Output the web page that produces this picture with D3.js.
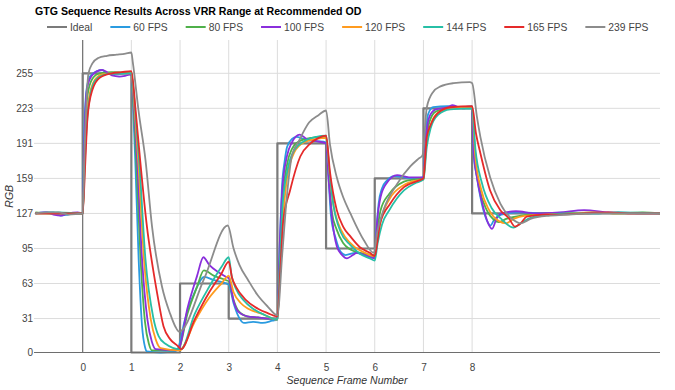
<!DOCTYPE html>
<html>
<head>
<meta charset="utf-8">
<script src="https://cdn.jsdelivr.net/npm/d3@7"></script>
<style>
  body { margin: 0; background: #fff; }
  svg { font-family: "Liberation Sans", Arial, sans-serif; }
</style>
</head>
<body>
<svg id="chart" width="675" height="390"></svg>
<script>
const seriesNames = ["Ideal", "60 FPS", "80 FPS", "100 FPS", "120 FPS", "144 FPS", "165 FPS", "239 FPS"];
const seriesColors = ["#7b7b7b", "#2a9be0", "#4fb04a", "#8a2fdc", "#ff9b1f", "#27bfa6", "#e52a2a", "#8c8c8c"];

const yTicks = [0, 31, 63, 95, 127, 159, 191, 223, 255];
const xTicks = [0, 1, 2, 3, 4, 5, 6, 7, 8];

// [frame, rgb]
const ideal = [[-0.97,127],[0,127],[0,255],[1,255],[1,0],[2,0],[2,63],[3,63],[3,31],[4,31],[4,191],[5,191],[5,95],[6,95],[6,159],[7,159],[7,223],[8,223],[8,127],[11.86,127]];

const fps60 = [[-0.97,127],[-0.8,128],[-0.6,128],[-0.45,125],[-0.3,126],[-0.15,127],[0,127],
  [0.03,200],[0.08,240],[0.15,252],[0.3,257],[0.4,258],[0.5,255],[0.7,254],[0.9,255],[1.0,255],
  [1.04,220],[1.08,176],[1.15,85],[1.22,24],[1.28,5],[1.32,1],[1.6,0],[1.88,1],
  [1.95,3],[2.1,30],[2.3,55],[2.5,69],[2.7,66],[2.95,63],[3.0,62],
  [3.1,45],[3.2,33],[3.31,27],[3.5,28],[3.7,27],[3.9,29],[4.0,30],
  [4.05,100],[4.09,148],[4.15,175],[4.2,188],[4.3,195],[4.4,197],[4.6,194],[4.8,193],[5.0,192],
  [5.05,160],[5.1,125],[5.2,104],[5.3,92],[5.4,89],[5.6,91],[5.8,89],[6.0,87],
  [6.04,115],[6.08,136],[6.15,150],[6.25,157],[6.4,161],[6.6,160],[6.8,159],[7.0,160],
  [7.04,195],[7.1,218],[7.2,224],[7.5,225],[7.8,224],[8.0,225],
  [8.03,182],[8.1,160],[8.17,142],[8.3,121],[8.38,116],[8.45,121],[8.6,126],[9.0,128],[9.5,127],[10,128],[10.5,127],[11,128],[11.5,127],[11.86,127]];

const fps80 = [[-0.97,128],[-0.6,127],[-0.3,127],[0,127],
  [0.04,190],[0.1,235],[0.2,250],[0.35,255],[0.6,256],[1.0,255],
  [1.05,220],[1.1,176],[1.19,85],[1.28,28],[1.36,8],[1.42,2],[1.9,2],
  [1.97,3],[2.15,35],[2.35,60],[2.49,75],[2.7,70],[2.95,66],[3.0,65],
  [3.1,48],[3.2,38],[3.38,33],[3.6,32],[3.8,31],[4.0,31],
  [4.05,85],[4.1,135],[4.2,172],[4.3,186],[4.45,193],[4.7,196],[5.0,197],
  [5.06,160],[5.12,128],[5.22,112],[5.35,100],[5.5,94],[5.7,91],[6.0,89],
  [6.05,110],[6.12,130],[6.3,145],[6.6,156],[6.8,158],[7.0,159],
  [7.05,190],[7.12,210],[7.25,220],[7.5,223],[8.0,224],
  [8.05,180],[8.15,150],[8.3,130],[8.45,121],[8.55,119],[8.7,122],[9.0,125],[9.5,127],[10,127],[10.5,128],[11,127],[11.5,128],[11.86,127]];

const fps100 = [[-0.97,127],[-0.75,128],[-0.6,126],[-0.45,125],[-0.3,127],[-0.1,128],[0,127],
  [0.04,200],[0.08,238],[0.15,250],[0.3,257],[0.4,258],[0.5,256],[0.6,253],[0.75,252],[0.9,253],[1.0,254],
  [1.06,220],[1.12,176],[1.22,85],[1.33,30],[1.42,10],[1.5,3],[1.9,2],
  [1.97,3],[2.15,40],[2.35,70],[2.48,87],[2.6,80],[2.8,73],[2.95,69],[3.0,68],
  [3.1,47],[3.2,37],[3.38,33],[3.6,32],[3.8,31],[4.0,31],
  [4.05,100],[4.1,148],[4.2,180],[4.3,192],[4.46,199],[4.6,195],[4.8,193],[5.0,191],
  [5.05,160],[5.12,124],[5.22,97],[5.33,89],[5.43,86],[5.55,89],[5.63,91],[5.8,89],[6.0,86],
  [6.05,120],[6.12,142],[6.25,155],[6.46,162],[6.7,160],[7.0,160],
  [7.05,195],[7.12,215],[7.25,222],[7.5,224],[7.6,226],[7.8,223],[8.0,224],
  [8.03,185],[8.1,160],[8.2,138],[8.33,118],[8.41,113],[8.5,122],[8.6,127],[8.9,129],[9.3,127],[9.8,128],[10.3,130],[10.8,128],[11.3,127],[11.86,127]];

const fps120 = [[-0.97,127],[-0.5,127],[0,127],
  [0.05,185],[0.12,230],[0.25,249],[0.4,254],[0.6,255],[1.0,255],
  [1.07,220],[1.14,176],[1.26,85],[1.4,30],[1.5,12],[1.6,4],[2.0,2],
  [2.03,3],[2.3,28],[2.6,50],[2.85,63],[3.0,70],
  [3.1,55],[3.25,45],[3.4,40],[3.7,35],[4.0,30],
  [4.05,75],[4.12,125],[4.2,160],[4.35,183],[4.55,192],[4.8,195],[5.0,196],
  [5.07,165],[5.15,135],[5.25,118],[5.4,105],[5.6,96],[5.8,91],[6.0,88],
  [6.06,105],[6.15,125],[6.3,140],[6.6,153],[6.85,157],[7.0,158],
  [7.06,190],[7.15,208],[7.3,219],[7.55,223],[8.0,224],
  [8.06,182],[8.18,150],[8.35,130],[8.55,120],[8.7,118],[8.85,122],[9.1,125],[9.5,126],[10,127],[10.5,128],[11,127],[11.86,127]];

const fps144 = [[-0.97,127],[-0.5,128],[0,127],
  [0.05,180],[0.12,225],[0.25,248],[0.4,253],[0.6,255],[1.0,255],
  [1.08,220],[1.16,176],[1.29,85],[1.45,32],[1.56,15],[1.7,8],[2.0,3],
  [2.02,3],[2.3,35],[2.6,60],[2.85,78],[3.0,87],
  [3.06,70],[3.15,58],[3.3,48],[3.5,40],[3.75,34],[4.0,30],
  [4.05,80],[4.1,130],[4.2,165],[4.35,185],[4.55,193],[4.8,197],[5.0,198],
  [5.07,165],[5.15,135],[5.3,110],[5.5,98],[5.7,90],[5.9,86],[6.0,84],
  [6.06,100],[6.15,117],[6.3,130],[6.6,148],[6.85,155],[7.0,158],
  [7.07,188],[7.15,205],[7.3,217],[7.55,222],[8.0,223],
  [8.07,185],[8.2,155],[8.4,132],[8.6,122],[8.85,114],[9.0,118],[9.2,123],[9.6,126],[10,127],[10.5,127],[11,128],[11.86,127]];

const fps165 = [[-0.97,127],[-0.5,127],[0,127],
  [0.05,170],[0.1,215],[0.2,240],[0.35,251],[0.6,255],[0.8,256],[1.0,257],
  [1.09,220],[1.18,176],[1.32,115],[1.45,75],[1.53,54],[1.66,24],[1.8,12],[1.95,6],[2.02,3],
  [2.3,30],[2.6,55],[2.85,72],[3.0,83],
  [3.07,68],[3.15,60],[3.35,48],[3.6,40],[3.8,36],[4.0,33],
  [4.06,75],[4.12,120],[4.26,148],[4.47,179],[4.68,191],[4.85,196],[5.0,198],
  [5.08,165],[5.22,130],[5.35,115],[5.5,106],[5.7,96],[5.9,91],[6.0,88],
  [6.05,100],[6.11,118],[6.32,136],[6.6,151],[6.9,157],[7.0,159],
  [7.07,197],[7.15,208],[7.28,218],[7.55,224],[8.0,225],
  [8.08,200],[8.17,182],[8.37,148],[8.58,130],[8.75,123],[8.88,115],[9.0,118],[9.12,124],[9.5,126],[9.8,126],[10.3,127],[10.8,128],[11.3,127],[11.86,127]];

const fps239 = [[-0.97,127],[-0.7,128],[-0.5,128],[-0.3,126],[0,127],
  [0.05,200],[0.12,255],[0.2,264],[0.32,269],[0.5,271],[0.7,272],[0.88,273],[1.0,274],
  [1.03,265],[1.15,220],[1.29,176],[1.425,115],[1.63,60],[1.8,35],[1.9,24],[1.98,19],
  [2.5,68],[2.98,116],
  [3.1,95],[3.22,80],[3.4,66],[3.6,52],[3.8,42],[4.0,34],
  [4.1,90],[4.2,145],[4.3,180],[4.44,193],[4.65,210],[4.85,217],[5.0,221],
  [5.08,190],[5.22,160],[5.35,142],[5.5,127],[5.77,103],[5.98,91],
  [6.05,110],[6.18,130],[6.46,154],[6.73,170],[6.9,177],[6.98,180],
  [7.07,224],[7.2,238],[7.35,243],[7.62,246],[7.95,247],[8.0,246],
  [8.1,215],[8.17,197],[8.37,160],[8.58,136],[8.85,121],[9.0,118],[9.2,122],[9.6,125],[10,126],[10.5,127],[11,127],[11.86,127]];

const seriesData = [ideal, fps60, fps80, fps100, fps120, fps144, fps165, fps239];

const svg = d3.select("#chart");

const plot = { left: 34, right: 660, top: 40, bottom: 352.5 };

const xScale = d3.scaleLinear().domain([-1, 11.86]).range([plot.left, plot.right]);
const yScale = d3.scaleLinear().domain([0, 285.4]).range([plot.bottom, plot.top]);

// gridlines
svg.append("g")
  .selectAll("line")
  .data(yTicks.filter((d) => d !== 0))
  .join("line")
  .attr("x1", plot.left)
  .attr("x2", plot.right)
  .attr("y1", (d) => yScale(d))
  .attr("y2", (d) => yScale(d))
  .attr("stroke", "#dcdcdc")
  .attr("stroke-width", 1);

svg.append("g")
  .selectAll("line")
  .data(xTicks.filter((d) => d !== 0))
  .join("line")
  .attr("x1", (d) => xScale(d))
  .attr("x2", (d) => xScale(d))
  .attr("y1", plot.top)
  .attr("y2", plot.bottom)
  .attr("stroke", "#dcdcdc")
  .attr("stroke-width", 1);

// baseline at frame 0
svg.append("line")
  .attr("x1", xScale(0)).attr("x2", xScale(0))
  .attr("y1", plot.top).attr("y2", plot.bottom)
  .attr("stroke", "#6e6e6e").attr("stroke-width", 1.2);

// axes (labels only)
const axisY = d3.axisLeft(yScale).tickValues(yTicks).tickSize(0).tickPadding(0);
const axisYGroup = svg.append("g")
  .attr("transform", `translate(${plot.left - 1},0)`)
  .call(axisY);
axisYGroup.select(".domain").remove();
axisYGroup.selectAll("text")
  .attr("font-size", 10)
  .attr("font-family", "Liberation Sans, Arial, sans-serif")
  .attr("fill", "#444");

const axisX = d3.axisBottom(xScale).tickValues(xTicks).tickSize(0).tickPadding(11);
const axisXGroup = svg.append("g")
  .attr("transform", `translate(0,${plot.bottom})`)
  .call(axisX);
axisXGroup.select(".domain").remove();
axisXGroup.selectAll("text")
  .attr("font-size", 10)
  .attr("font-family", "Liberation Sans, Arial, sans-serif")
  .attr("fill", "#444");

// series
const lineLinear = d3.line()
  .x((d) => xScale(d[0]))
  .y((d) => yScale(d[1]));
const lineSmooth = d3.line()
  .x((d) => xScale(d[0]))
  .y((d) => yScale(d[1]))
  .curve(d3.curveMonotoneX);

seriesData.forEach((data, i) => {
  svg.append("path")
    .datum(data)
    .attr("fill", "none")
    .attr("stroke", seriesColors[i])
    .attr("stroke-width", i === 0 ? 2.2 : 1.8)
    .attr("stroke-linejoin", "round")
    .attr("d", i === 0 ? lineLinear : lineSmooth);
});

// x baseline on top
svg.append("line")
  .attr("x1", plot.left).attr("x2", plot.right)
  .attr("y1", plot.bottom).attr("y2", plot.bottom)
  .attr("stroke", "#6e6e6e").attr("stroke-width", 1.2);

// title
svg.append("text")
  .attr("x", 35)
  .attr("y", 15)
  .attr("font-size", 10.6)
  .attr("font-weight", "bold")
  .attr("fill", "#000")
  .text("GTG Sequence Results Across VRR Range at Recommended OD");

// legend
const legend = svg.append("g");
let lx = 47;
seriesNames.forEach((name, i) => {
  legend.append("line")
    .attr("x1", lx).attr("x2", lx + 20)
    .attr("y1", 27).attr("y2", 27)
    .attr("stroke", seriesColors[i])
    .attr("stroke-width", 2);
  const t = legend.append("text")
    .attr("x", lx + 23)
    .attr("y", 31)
    .attr("font-size", 10.3)
    .attr("fill", "#444")
    .text(name);
  lx += 23 + t.node().getComputedTextLength() + 18;
});

// axis titles
svg.append("text")
  .attr("x", (plot.left + plot.right) / 2)
  .attr("y", 384)
  .attr("text-anchor", "middle")
  .attr("font-size", 10.5)
  .attr("font-style", "italic")
  .attr("fill", "#333")
  .text("Sequence Frame Number");

svg.append("text")
  .attr("transform", `translate(13,${(plot.top + plot.bottom) / 2}) rotate(-90)`)
  .attr("text-anchor", "middle")
  .attr("font-size", 10.5)
  .attr("font-style", "italic")
  .attr("fill", "#333")
  .text("RGB");
</script>
</body>
</html>
